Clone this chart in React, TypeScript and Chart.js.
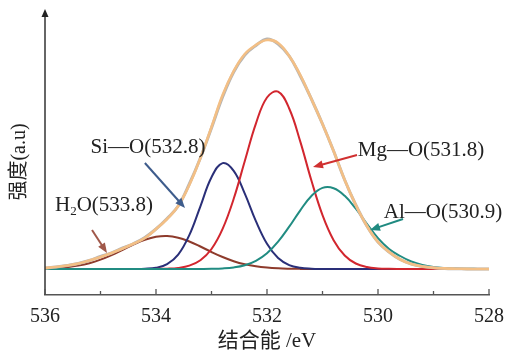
import React, { useEffect, useRef } from "react";
import { Chart, registerables } from "chart.js";

Chart.register(...registerables);

// Binding energy grid (eV), 536 -> 528
const energies = [
  536.0, 535.8, 535.6, 535.4, 535.2, 535.0, 534.8, 534.6, 534.4, 534.2,
  534.0, 533.8, 533.6, 533.4, 533.2, 533.0, 532.8, 532.6, 532.4, 532.2,
  532.0, 531.8, 531.6, 531.4, 531.2, 531.0, 530.8, 530.6, 530.4, 530.2,
  530.0, 529.8, 529.6, 529.4, 529.2, 529.0, 528.8, 528.6, 528.4, 528.2, 528.0,
];

const rawData = [
  1, 2, 3.5, 5.5, 8.5, 12.5, 16, 21, 25.5, 31.5,
  40, 50.5, 63, 85, 111, 141, 172, 197, 214, 223.5,
  230, 225, 213, 193, 170, 145, 118, 89, 64, 43,
  27, 17, 9.5, 5, 2.5, 1.3, 0.6, 0.3, 0.1, 0, 0,
];

const envelope = [
  1, 2, 3.5, 5.5, 8.5, 12, 16, 20.5, 25.5, 31,
  40, 50, 63, 84, 111, 142, 174, 198, 215, 224,
  229, 226, 213, 194, 170, 145, 118, 89, 64, 43,
  27, 17, 9.5, 5, 2.5, 1.3, 0.6, 0.3, 0.1, 0, 0,
];

const h2o = [
  0.41, 0.9, 1.8, 3.37, 5.82, 9.34, 13.9, 19.2, 24.6, 29.2,
  32.2, 33.0, 31.3, 27.5, 22.5, 17.0, 12.0, 7.8, 4.7, 2.65,
  1.38, 0.66, 0.3, 0.12, 0.05, 0, 0, 0, 0, 0,
  0, 0, 0, 0, 0, 0, 0, 0, 0, 0, 0,
];

const siO = [
  0, 0, 0, 0, 0, 0, 0, 0, 0.04, 0.26,
  1.27, 4.8, 14.3, 33.8, 62.7, 91.8, 105.9, 98.2, 75.4, 47.9,
  25.2, 10.96, 3.95, 1.18, 0.29, 0.06, 0, 0, 0, 0,
  0, 0, 0, 0, 0, 0, 0, 0, 0, 0, 0,
];

const mgO = [
  0, 0, 0, 0, 0, 0, 0, 0, 0, 0,
  0.09, 0.33, 1.13, 3.36, 8.76, 20.0, 40.1, 70.2, 108.0, 145.4,
  171.5, 177.3, 160.5, 127.4, 88.5, 53.9, 28.8, 13.5, 5.51, 1.98,
  0.62, 0.17, 0.04, 0, 0, 0, 0, 0, 0, 0, 0,
];

const alO = [
  0, 0, 0, 0, 0, 0, 0, 0, 0, 0,
  0, 0, 0, 0, 0.06, 0.19, 0.57, 1.55, 3.76, 8.13,
  15.7, 27.3, 42.3, 58.7, 73.0, 81.1, 80.8, 73.2, 60.3, 45.2,
  30.8, 20, 13, 7.5, 4, 2, 1, 0.5, 0.2, 0.1, 0,
];

const xTicks = [536, 534, 532, 530, 528];
const xTitle = "结合能 /eV";
const yTitle = "强度(a.u)";

const SERIF = "'Liberation Serif', 'Times New Roman', 'Noto Sans CJK SC', serif";
const CJK = "'Liberation Serif', 'Noto Sans CJK SC', serif";

type Ann = {
  text: string;
  sub?: string;
  rest?: string;
  tx: number;
  ty: number;
  align: "center" | "left";
  ax0: number;
  ay0: number;
  ax1: number;
  ay1: number;
  color: string;
};

const annotations: Ann[] = [
  { text: "Si—O(532.8)", tx: 534.144, ty: 122, align: "center", ax0: 534.2, ay0: 106, ax1: 533.477, ay1: 61, color: "#3e5c8c" },
  { text: "H", sub: "2", rest: "O(533.8)", tx: 535.82, ty: 64, align: "left", ax0: 535.153, ay0: 39, ax1: 534.883, ay1: 16, color: "#a0584a" },
  { text: "Mg—O(531.8)", tx: 529.225, ty: 119, align: "center", ax0: 530.378, ay0: 114, ax1: 531.171, ay1: 102, color: "#d03030" },
  { text: "Al—O(530.9)", tx: 528.829, ty: 57, align: "center", ax0: 529.55, ay0: 50, ax1: 530.144, ay1: 39, color: "#1f8a80" },
];

function toPts(vals: number[]) {
  return energies.map((e, i) => ({ x: e, y: vals[i] }));
}

function drawArrow(ctx: CanvasRenderingContext2D, x0: number, y0: number, x1: number, y1: number, color: string) {
  const ang = Math.atan2(y1 - y0, x1 - x0);
  const hl = 10;
  const hw = 4;
  ctx.save();
  ctx.strokeStyle = color;
  ctx.fillStyle = color;
  ctx.lineWidth = 2;
  ctx.beginPath();
  ctx.moveTo(x0, y0);
  ctx.lineTo(x1 - Math.cos(ang) * hl * 0.6, y1 - Math.sin(ang) * hl * 0.6);
  ctx.stroke();
  ctx.beginPath();
  ctx.moveTo(x1, y1);
  ctx.lineTo(x1 - Math.cos(ang) * hl - Math.sin(ang) * hw, y1 - Math.sin(ang) * hl + Math.cos(ang) * hw);
  ctx.lineTo(x1 - Math.cos(ang) * hl + Math.sin(ang) * hw, y1 - Math.sin(ang) * hl - Math.cos(ang) * hw);
  ctx.closePath();
  ctx.fill();
  ctx.restore();
}

const decorPlugin = {
  id: "decor",
  afterDraw(chart: any) {
    const ctx: CanvasRenderingContext2D = chart.ctx;
    const xs = chart.scales.x;
    const ys = chart.scales.y;
    const area = chart.chartArea;
    ctx.save();
    // y axis with arrow
    ctx.strokeStyle = "#333";
    ctx.fillStyle = "#222";
    ctx.lineWidth = 1.5;
    ctx.beginPath();
    ctx.moveTo(area.left, area.bottom);
    ctx.lineTo(area.left, area.top + 4);
    ctx.stroke();
    ctx.beginPath();
    ctx.moveTo(area.left, area.top - 3);
    ctx.lineTo(area.left - 3.5, area.top + 5);
    ctx.lineTo(area.left + 3.5, area.top + 5);
    ctx.closePath();
    ctx.fill();
    // x ticks pointing inward
    ctx.strokeStyle = "#555";
    ctx.lineWidth = 1.3;
    for (let v = 528; v <= 536; v++) {
      const px = xs.getPixelForValue(v);
      const len = v % 2 === 0 ? 6 : 4;
      ctx.beginPath();
      ctx.moveTo(px, area.bottom);
      ctx.lineTo(px, area.bottom - len);
      ctx.stroke();
    }
    // y title
    ctx.save();
    ctx.translate(20, 162);
    ctx.rotate(-Math.PI / 2);
    ctx.fillStyle = "#222";
    ctx.font = "20px " + CJK;
    ctx.textAlign = "center";
    ctx.textBaseline = "middle";
    ctx.fillText(yTitle, 0, 0);
    ctx.restore();
    // annotations
    ctx.fillStyle = "#222";
    ctx.font = "21px " + SERIF;
    ctx.textBaseline = "middle";
    for (const a of annotations) {
      const tx = xs.getPixelForValue(a.tx);
      const ty = ys.getPixelForValue(a.ty);
      if (a.sub) {
        ctx.textAlign = "left";
        ctx.font = "21px " + SERIF;
        ctx.fillText(a.text, tx, ty);
        let w = ctx.measureText(a.text).width;
        ctx.font = "13px " + SERIF;
        ctx.fillText(a.sub, tx + w, ty + 7);
        w += ctx.measureText(a.sub).width;
        ctx.font = "21px " + SERIF;
        ctx.fillText(a.rest || "", tx + w, ty);
      } else {
        ctx.textAlign = a.align;
        ctx.font = "21px " + SERIF;
        ctx.fillText(a.text, tx, ty);
      }
      drawArrow(
        ctx,
        xs.getPixelForValue(a.ax0),
        ys.getPixelForValue(a.ay0),
        xs.getPixelForValue(a.ax1),
        ys.getPixelForValue(a.ay1),
        a.color
      );
    }
    ctx.restore();
  },
};

const bgPlugin = {
  id: "bg",
  beforeDraw(chart: any) {
    const ctx = chart.ctx;
    ctx.save();
    ctx.fillStyle = "#fff";
    ctx.fillRect(0, 0, chart.width, chart.height);
    ctx.restore();
  },
};

export default function App() {
  const ref = useRef<HTMLCanvasElement | null>(null);
  useEffect(() => {
    if (!ref.current) return;
    const line = (label: string, vals: number[], color: string, width: number, order: number) => ({
      label,
      data: toPts(vals),
      borderColor: color,
      backgroundColor: color,
      borderWidth: width,
      pointRadius: 0,
      tension: 0.4,
      fill: false,
      order,
    });
    const chart = new Chart(ref.current, {
      type: "line",
      data: {
        datasets: [
          line("Envelope", envelope, "#f3bf85", 2.6, 0),
          line("Raw", rawData, "#b4b4b4", 3, 1),
          line("Al—O", alO, "#218c82", 2, 2),
          line("Mg—O", mgO, "#d2262e", 2, 3),
          line("Si—O", siO, "#2a2f78", 2, 4),
          line("H2O", h2o, "#8e3b2c", 2, 5),
        ] as any,
      },
      options: {
        animation: false,
        responsive: false,
        maintainAspectRatio: false,
        layout: { padding: { left: 45, right: 28, top: 12, bottom: 0 } },
        plugins: {
          legend: { display: false },
          tooltip: { enabled: false },
        },
        scales: {
          x: {
            type: "linear",
            reverse: true,
            min: 528,
            max: 536,
            afterBuildTicks(scale: any) {
              scale.ticks = xTicks.map((v) => ({ value: v }));
            },
            afterFit(scale: any) {
              scale.height = 58;
            },
            ticks: {
              color: "#222",
              font: { family: SERIF, size: 20 },
              padding: 10,
              maxRotation: 0,
              autoSkip: false,
            },
            grid: { display: false, drawTicks: false },
            border: { display: true, color: "#555", width: 1.5 },
            title: {
              display: true,
              text: xTitle,
              color: "#222",
              font: { family: CJK, size: 21 },
              padding: { top: 4, bottom: -1 },
            },
          },
          y: {
            type: "linear",
            display: false,
            min: -26,
            max: 257,
          },
        },
      } as any,
      plugins: [bgPlugin, decorPlugin],
    });
    return () => chart.destroy();
  }, []);
  return (
    <div style={{ position: "absolute", left: 0, top: 0, width: 517, height: 353, background: "#fff" }}>
      <canvas ref={ref} width={517} height={353} style={{ display: "block", width: 517, height: 353 }} />
    </div>
  );
}
